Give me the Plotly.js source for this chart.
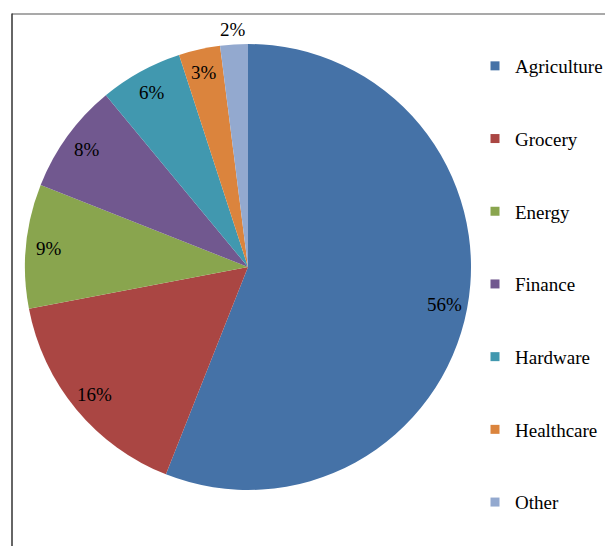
<!DOCTYPE html>
<html>
<head>
<meta charset="utf-8">
<script src="https://cdn.plot.ly/plotly-3.0.1.min.js"></script>
<style>html,body{margin:0;padding:0;background:#fff;}#chart{width:605px;height:546px;}</style>
</head>
<body>
<div id="chart"></div>
<script>
const categories = ["Agriculture", "Grocery", "Energy", "Finance", "Hardware", "Healthcare", "Other"];
const shares = [56, 16, 9, 8, 6, 3, 2];
const colors = ["#4572A7", "#AA4643", "#89A54E", "#71588F", "#4198AF", "#DB843D", "#93A9CF"];

const W = 605, H = 546;
const font = {family: "\"Liberation Serif\", \"Times New Roman\", Times, serif", size: 19, color: "#000"};

// pie geometry (pixels)
const cx = 248, cy = 267, R = 223;

const pie = {
  type: "pie",
  labels: categories,
  values: shares,
  sort: false,
  direction: "clockwise",
  rotation: 0,
  marker: {colors: colors, line: {width: 0}},
  textinfo: "none",
  automargin: false,
  showlegend: false,
  hoverinfo: "label+percent",
  domain: {x: [(cx - R) / W, (cx + R) / W], y: [(H - cy - R) / H, (H - cy + R) / H]}
};

// percentage labels placed along each slice's mid angle (Excel "best fit" style)
const total = shares.reduce((a, b) => a + b, 0);
let cum = 0;
const labelAnnotations = shares.map((v) => {
  const mid = (cum + v / 2) / total * 2 * Math.PI;
  cum += v;
  const outside = v / total < 0.025;
  const rr = outside ? R * 1.065 : R * 0.895;
  const px = cx + rr * Math.sin(mid);
  const py = cy - rr * Math.cos(mid);
  return {
    xref: "paper", yref: "paper",
    x: px / W, y: 1 - py / H,
    xanchor: "center", yanchor: "middle",
    text: Math.round(v / total * 100) + "%",
    showarrow: false,
    font: font
  };
});

const legendTraces = categories.map((c, i) => ({
  type: "scatter",
  mode: "markers",
  x: [null], y: [null],
  name: c,
  legendgroup: "g" + i,
  marker: {symbol: "square", size: 9, color: colors[i]},
  showlegend: true,
  hoverinfo: "skip"
}));

const layout = {
  width: W, height: H,
  margin: {l: 0, r: 0, t: 0, b: 0, autoexpand: false},
  paper_bgcolor: "#fff",
  plot_bgcolor: "#fff",
  font: font,
  xaxis: {visible: false, domain: [0.9, 1]},
  yaxis: {visible: false, domain: [0.9, 1]},
  showlegend: true,
  legend: {
    x: 475 / W, xanchor: "left",
    y: 1 - 47 / H, yanchor: "top",
    font: font,
    tracegroupgap: 45,
    itemwidth: 30,
    bgcolor: "rgba(0,0,0,0)",
    itemclick: false, itemdoubleclick: false
  },
  annotations: labelAnnotations,
  shapes: [
    {type: "line", xref: "paper", yref: "paper", x0: 12 / W, x1: 1, y0: 1 - 14 / H, y1: 1 - 14 / H, line: {color: "#8c8c8c", width: 1.5}},
    {type: "line", xref: "paper", yref: "paper", x0: 12 / W, x1: 12 / W, y0: 1 - 13.5 / H, y1: 0, line: {color: "#333333", width: 1.5}}
  ]
};

Plotly.newPlot("chart", [pie].concat(legendTraces), layout, {displayModeBar: false, staticPlot: true});
</script>
</body>
</html>
